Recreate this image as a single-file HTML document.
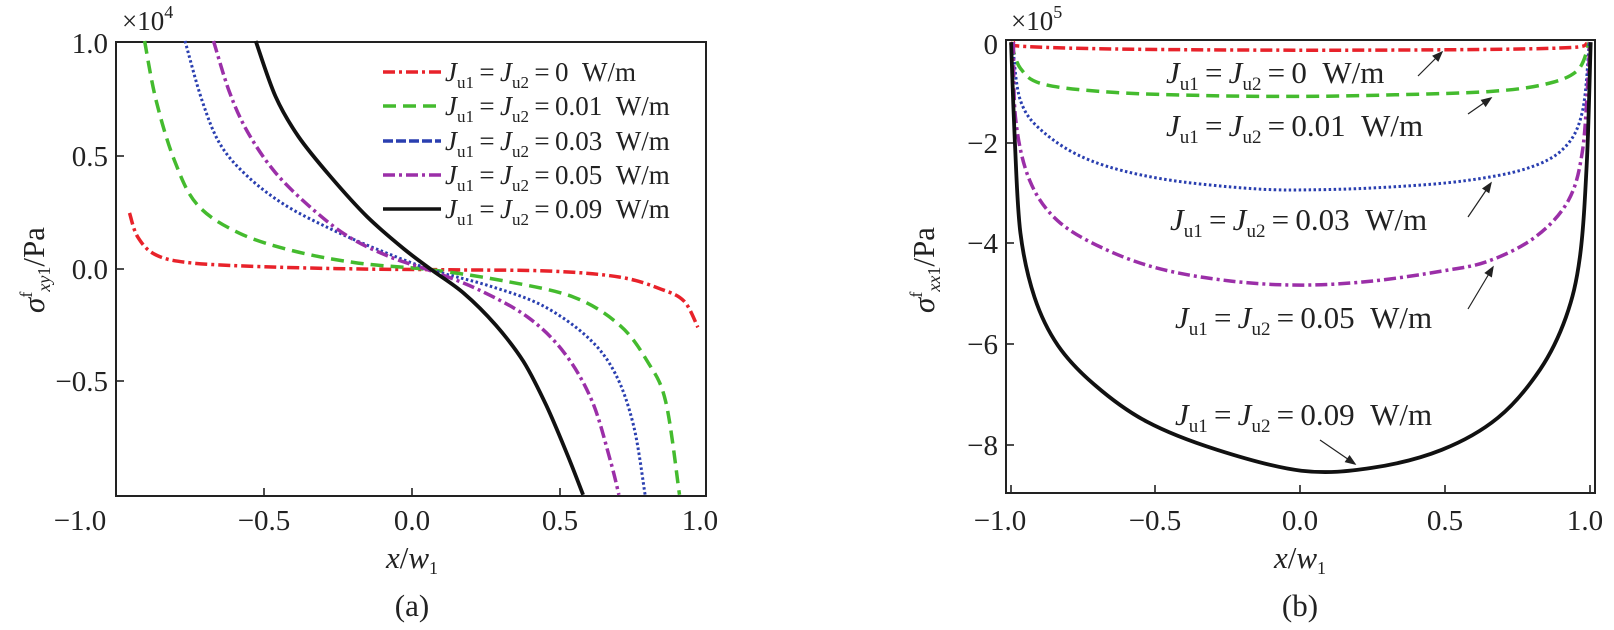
<!DOCTYPE html>
<html><head><meta charset="utf-8"><style>
html,body{margin:0;padding:0;background:#fff}
svg{display:block}
text{font-family:"Liberation Serif",serif;fill:#222}
</style></head><body>
<svg id="s" width="1614" height="630" viewBox="0 0 1614 630" xmlns="http://www.w3.org/2000/svg">
<rect x="116" y="42" width="590" height="454" fill="none" stroke="#222" stroke-width="2"/>
<g stroke="#222" stroke-width="1.6">
<line x1="264" y1="496" x2="264" y2="488"/><line x1="412" y1="496" x2="412" y2="488"/><line x1="560" y1="496" x2="560" y2="488"/>
<line x1="116" y1="156" x2="124" y2="156"/><line x1="116" y1="269" x2="124" y2="269"/><line x1="116" y1="381" x2="124" y2="381"/>
</g>
<g font-size="29" text-anchor="end">
<text x="108" y="53">1.0</text><text x="108" y="166">0.5</text><text x="108" y="279">0.0</text><text x="108" y="391">−0.5</text>
</g>
<g font-size="29" text-anchor="middle">
<text x="80" y="530">−1.0</text><text x="264" y="530">−0.5</text><text x="412" y="530">0.0</text><text x="560" y="530">0.5</text><text x="700" y="530">1.0</text>
</g>
<text x="122" y="30" font-size="27">×10<tspan font-size="18" dy="-12">4</tspan></text>
<text x="412" y="568" font-size="31" text-anchor="middle" font-style="italic">x<tspan font-style="normal">/</tspan>w<tspan font-size="18" dy="6" font-style="normal">1</tspan></text>
<text x="412" y="616" font-size="31" text-anchor="middle">(a)</text>
<text transform="translate(44,270) rotate(-90)" font-size="31" text-anchor="middle"><tspan font-style="italic">σ</tspan><tspan font-size="18" dy="-12">f</tspan><tspan font-size="18" dy="18" font-style="italic">xy</tspan><tspan font-size="18">1</tspan><tspan dy="-6">/Pa</tspan></text>

<rect x="1006" y="40" width="589" height="453" fill="none" stroke="#222" stroke-width="2"/>
<g stroke="#222" stroke-width="1.6">
<line x1="1011" y1="493" x2="1011" y2="485"/><line x1="1155" y1="493" x2="1155" y2="485"/><line x1="1300" y1="493" x2="1300" y2="485"/><line x1="1445" y1="493" x2="1445" y2="485"/><line x1="1590" y1="493" x2="1590" y2="485"/>
<line x1="1006" y1="143" x2="1014" y2="143"/><line x1="1006" y1="243" x2="1014" y2="243"/><line x1="1006" y1="344" x2="1014" y2="344"/><line x1="1006" y1="445" x2="1014" y2="445"/>
</g>
<g font-size="29" text-anchor="end">
<text x="998" y="54">0</text><text x="998" y="153">−2</text><text x="998" y="253">−4</text><text x="998" y="354">−6</text><text x="998" y="455">−8</text>
</g>
<g font-size="29" text-anchor="middle">
<text x="1000" y="530">−1.0</text><text x="1155" y="530">−0.5</text><text x="1300" y="530">0.0</text><text x="1445" y="530">0.5</text><text x="1585" y="530">1.0</text>
</g>
<text x="1011" y="30" font-size="27">×10<tspan font-size="18" dy="-12">5</tspan></text>
<text x="1300" y="568" font-size="31" text-anchor="middle" font-style="italic">x<tspan font-style="normal">/</tspan>w<tspan font-size="18" dy="6" font-style="normal">1</tspan></text>
<text x="1300" y="616" font-size="31" text-anchor="middle">(b)</text>
<text transform="translate(934,270) rotate(-90)" font-size="31" text-anchor="middle"><tspan font-style="italic">σ</tspan><tspan font-size="18" dy="-12">f</tspan><tspan font-size="18" dy="18" font-style="italic">xx</tspan><tspan font-size="18">1</tspan><tspan dy="-6">/Pa</tspan></text>

<g id="curves" fill="none"></g>

<g stroke-width="3.5">
<line x1="383" y1="72" x2="441" y2="72" stroke="#e8222a" stroke-dasharray="12,4,3,4"/>
<line x1="383" y1="106" x2="441" y2="106" stroke="#44bb2e" stroke-dasharray="13,7"/>
<line x1="383" y1="141" x2="441" y2="141" stroke="#2a3fb0" stroke-dasharray="10,3"/>
<line x1="383" y1="175" x2="441" y2="175" stroke="#9b2fa8" stroke-dasharray="12,4,3,4"/>
<line x1="383" y1="209" x2="441" y2="209" stroke="#111"/>
</g>
<g id="leg"></g>
<g id="rlab"></g>
<g stroke="#222" stroke-width="1.2" id="arrows"></g>
</svg>
<script>
var NS="http://www.w3.org/2000/svg";
function path(pts,sx,sy,ox,oy){
 var p=pts.map(function(a){return [ox+a[0]/sx,oy+a[1]/sy]});
 var d="M"+p[0][0].toFixed(1)+","+p[0][1].toFixed(1);
 for(var i=0;i<p.length-1;i++){
  var p0=p[i-1]||p[i],p1=p[i],p2=p[i+1],p3=p[i+2]||p2;
  var c1=[p1[0]+(p2[0]-p0[0])/6,p1[1]+(p2[1]-p0[1])/6],c2=[p2[0]-(p3[0]-p1[0])/6,p2[1]-(p3[1]-p1[1])/6];
  d+=" C"+c1[0].toFixed(1)+","+c1[1].toFixed(1)+" "+c2[0].toFixed(1)+","+c2[1].toFixed(1)+" "+p2[0].toFixed(1)+","+p2[1].toFixed(1);
 }
 return d;
}
var st={r:["#e8222a","12,4,3,4",3.5],g:["#44bb2e","13,7",3.5],b:["#2a3fb0","2.5,2.5",3],p:["#9b2fa8","12,4,3,4",3.5],k:["#111","",3.8]};
var L={
r:[[282,530],[300,590],[340,635],[420,655],[600,665],[800,670],[1000,672],[1200,675],[1350,690],[1440,720],[1490,750],[1520,815]],
g:[[315,102],[340,250],[380,400],[430,510],[520,580],[640,625],[780,655],[940,672],[1100,700],[1250,740],[1350,810],[1410,900],[1450,1000],[1480,1232]],
b:[[403,102],[440,250],[480,360],[540,440],[620,510],[720,570],[820,620],[940,672],[1060,710],[1180,760],[1280,840],[1340,930],[1380,1060],[1405,1232]],
p:[[465,102],[500,230],[540,330],[600,430],[680,520],[760,590],[850,640],[940,675],[1040,720],[1150,790],[1230,880],[1290,1000],[1330,1150],[1348,1232]],
k:[[557,102],[600,240],[650,340],[720,440],[800,540],[880,620],[940,672],[1010,730],[1080,810],[1140,900],[1190,1010],[1235,1130],[1270,1232]]};
var R={
r:[[285,105],[300,115],[500,122],[900,125],[1300,123],[1480,118],[1510,108]],
g:[[280,105],[300,170],[350,210],[500,230],[700,238],[900,240],[1100,236],[1300,228],[1420,210],[1490,175],[1515,105]],
b:[[283,105],[300,250],[350,330],[450,400],[600,445],[800,470],[950,472],[1100,465],[1250,450],[1380,420],[1460,370],[1500,280],[1515,105]],
p:[[285,105],[290,300],[320,450],[380,550],[480,620],[600,670],[750,700],[900,710],[1050,700],[1200,675],[1300,650],[1400,590],[1470,500],[1500,380],[1512,200],[1516,105]],
k:[[280,105],[288,350],[300,580],[330,740],[380,860],[460,960],[570,1050],[720,1120],[900,1172],[1050,1165],[1200,1120],[1320,1040],[1410,920],[1465,790],[1495,640],[1510,400],[1518,105]]};
var g=document.getElementById("curves");
function add(d,k){var e=document.createElementNS(NS,"path");e.setAttribute("d",d);e.setAttribute("stroke",st[k][0]);if(st[k][1])e.setAttribute("stroke-dasharray",st[k][1]);e.setAttribute("stroke-width",st[k][2]);g.appendChild(e);}
for(var k in L)add(path(L[k],2.178,2.49,0,0),k);
for(var k in R)add(path(R[k],2.136,2.49,880,0),k);
function lab(x,y,v,fs){var s=Math.round(fs*0.62);return '<text x="'+x+'" y="'+y+'" font-size="'+fs+'"><tspan font-style="italic">J</tspan><tspan font-size="'+s+'" dy="7">u1</tspan><tspan dy="-7">\u2009=\u2009</tspan><tspan font-style="italic">J</tspan><tspan font-size="'+s+'" dy="7">u2</tspan><tspan dy="-7">\u2009=\u2009'+v+'\u00a0\u00a0W/m</tspan></text>';}
var vals=["0","0.01","0.03","0.05","0.09"],ly=[81,115,150,184,218],h="";
for(var i=0;i<5;i++)h+=lab(445,ly[i],vals[i],27);
document.getElementById("leg").innerHTML=h;
var rp=[[1166,83],[1166,136],[1170,230],[1175,328],[1175,425]];h="";
for(var i=0;i<5;i++)h+=lab(rp[i][0],rp[i][1],vals[i],31);
document.getElementById("rlab").innerHTML=h;
var ar=[[1418,76,1442,52],[1468,114,1491,98],[1468,217,1491,183],[1468,309,1493,267],[1320,440,1355,464]];h="";
ar.forEach(function(a){var dx=a[2]-a[0],dy=a[3]-a[1],l=Math.hypot(dx,dy),ux=dx/l,uy=dy/l;
h+='<line x1="'+a[0]+'" y1="'+a[1]+'" x2="'+a[2]+'" y2="'+a[3]+'"/>';
var bx=a[2]-ux*9,by=a[3]-uy*9;h+='<polygon fill="#222" points="'+a[2]+','+a[3]+' '+(bx-uy*3.5)+','+(by+ux*3.5)+' '+(bx+uy*3.5)+','+(by-ux*3.5)+'"/>';});
document.getElementById("arrows").innerHTML=h;
</script>
</body></html>
